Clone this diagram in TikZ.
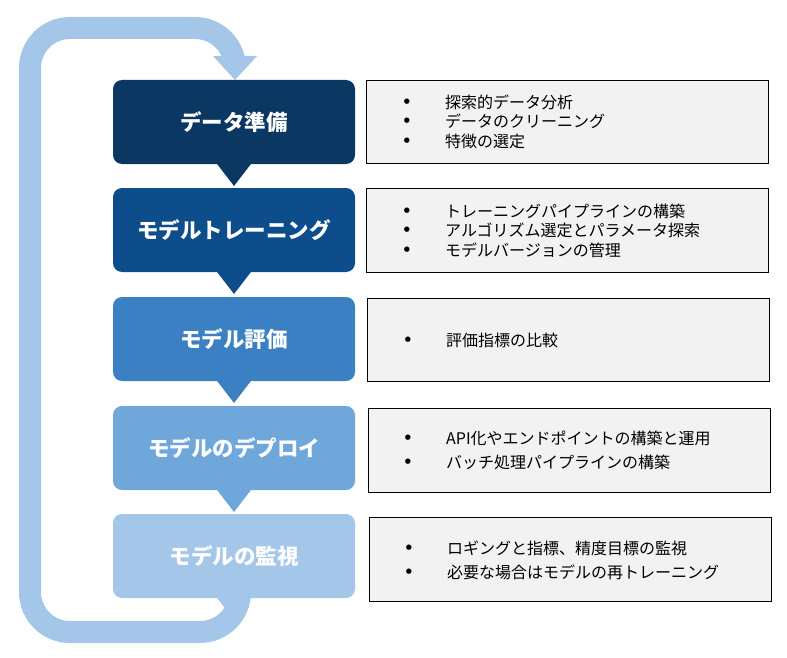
\documentclass[tikz,border=0pt]{standalone}
\usepackage{fontspec}
\setmainfont{Noto Sans CJK JP}
\newfontfamily\dejavu{DejaVu Sans}
\begin{document}
\begin{tikzpicture}[x=1pt,y=-1pt,
  infobox/.style={draw=black,line width=0.8pt,fill=gray!10,anchor=north west,inner sep=0pt},
  item/.style={anchor=west,font=\fontsize{16}{18}\selectfont,inner sep=0pt}]
\definecolor{c1}{HTML}{0B3763}
\definecolor{c2}{HTML}{0E4D8C}
\definecolor{c3}{HTML}{3C80C4}
\definecolor{c4}{HTML}{6FA7DB}
\definecolor{c5}{HTML}{A4C7E9}
\useasboundingbox (0,0) rectangle (787,658);
% loop arrow
\draw[c5,line width=22pt,rounded corners=40pt] (240,590) -- (240,632) -- (30,632) -- (30,28) -- (235,28) -- (235,58);
\fill[c5] (213,56) -- (257,56) -- (235,80) -- cycle;
% step boxes
\foreach \i/\y/\c/\t in {1/80/c1/データ準備,2/188/c2/モデルトレーニング,3/297/c3/モデル評価,4/406/c4/モデルのデプロイ,5/514/c5/モデルの監視}{
  \fill[\c] (214,\y+80) -- (254,\y+80) -- (234,\y+106) -- cycle;
  \fill[\c,rounded corners=9pt] (113,\y) rectangle (355,\y+84);
  \node[text=white,font=\bfseries\fontsize{21.5}{24}\selectfont] (s\i) at (234,\y+42) {\t};
}
% info boxes
\node[infobox,minimum width=402pt,minimum height=83pt] (b1) at (366,80) {};
\node[infobox,minimum width=402pt,minimum height=84pt] (b2) at (366,188) {};
\node[infobox,minimum width=402pt,minimum height=83pt] (b3) at (367,298) {};
\node[infobox,minimum width=402pt,minimum height=84pt] (b4) at (368,408) {};
\node[infobox,minimum width=402pt,minimum height=84pt] (b5) at (369,517) {};
\newcommand{\bul}[3]{\node[font=\dejavu\fontsize{7}{8}\selectfont] at (#1-38,#2) {●}; \node[item] at (#1,#2) {#3};}
\bul{445}{102}{探索的データ分析}
\bul{445}{121}{データのクリーニング}
\bul{445}{141}{特徴の選定}
\bul{445}{211}{トレーニングパイプラインの構築}
\bul{445}{230}{アルゴリズム選定とパラメータ探索}
\bul{445}{250}{モデルバージョンの管理}
\bul{446}{340}{評価指標の比較}
\bul{446}{438}{API化やエンドポイントの構築と運用}
\bul{446}{462}{バッチ処理パイプラインの構築}
\bul{447}{548}{ロギングと指標、精度目標の監視}
\bul{447}{572}{必要な場合はモデルの再トレーニング}
\end{tikzpicture}
\end{document}
